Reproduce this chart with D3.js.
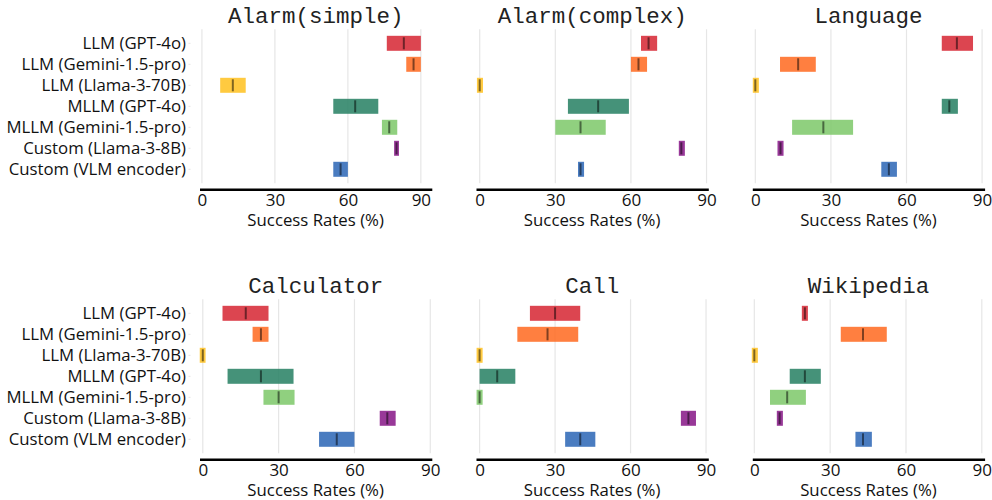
<!DOCTYPE html>
<html>
<head>
<meta charset="utf-8">
<script src="https://cdn.jsdelivr.net/npm/d3@7/dist/d3.min.js"></script>
<style>
  html, body { margin: 0; padding: 0; background: #fff; }
  svg { display: block; }
</style>
</head>
<body>
<svg id="chart" width="992" height="500"></svg>
<script>
// ---------------- data ----------------
const categories = [
  "LLM (GPT-4o)",
  "LLM (Gemini-1.5-pro)",
  "LLM (Llama-3-70B)",
  "MLLM (GPT-4o)",
  "MLLM (Gemini-1.5-pro)",
  "Custom (Llama-3-8B)",
  "Custom (VLM encoder)"
];
const tasks = ["Alarm(simple)", "Alarm(complex)", "Language", "Calculator", "Call", "Wikipedia"];

// lower end of each range, per task (rows follow categories)
const lowValues = [
  [76, 84, 7.5, 54, 74, 79, 54],
  [64, 60, -1.1, 35, 30, 79, 39],
  [74, 9.8, -1, 74, 14.6, 8.8, 50],
  [7.8, 19.7, -1.2, 9.8, 24, 70, 46],
  [20, 15, -1.2, 0, -1.2, 80, 34],
  [18.8, 34.2, -1, 14, 6.2, 8.9, 40]
];
// upper end of each range
const highValues = [
  [90, 90, 18, 72.5, 80.3, 81, 60],
  [70.4, 66.4, 1.3, 59.2, 50, 81.4, 41.4],
  [86.4, 24, 1.4, 80.4, 38.8, 11.2, 56.2],
  [26, 26, 1.1, 35.9, 36.3, 76.3, 60],
  [40, 39.2, 1.2, 14.2, 1.2, 86, 46],
  [21.2, 52.4, 1.4, 26.3, 20.4, 11.3, 46.5]
];
// median marks
const medianValues = [
  [83, 87, 12.7, 63, 77, 80, 57],
  [67, 63, 0, 47, 40, 80, 40],
  [80, 17, 0, 77, 27, 10, 53],
  [17, 23, 0, 23, 30, 73, 53],
  [30, 27, 0, 7, 0, 83, 40],
  [20, 43, 0, 20, 13, 10, 43]
];
const xTicks = [0, 30, 60, 90];
const xLimits = [[-1, 94.5], [-1.47, 90.7], [-1.2, 91], [-1.3, 90.6], [-1.43, 90.9], [-0.8, 91.1]];
const colors = ["#d62531", "#ff691e", "#ffc11e", "#257f62", "#7cc869", "#861586", "#2a65b5"];

// ---------------- layout ----------------
const svg = d3.select("#chart");
const panelLeft = [199.5, 476, 752.3];
const panelWidth = 232.3;
const rowTop = [29.3, 299.3];
const plotHeight = 154;
const font = "'Open Sans', 'Noto Sans', sans-serif";

tasks.forEach((task, t) => {
  const col = t % 3, row = Math.floor(t / 3);
  const x0 = panelLeft[col], y0 = rowTop[row];
  const x = d3.scaleLinear().domain(xLimits[t]).range([x0, x0 + panelWidth]);
  const y = d3.scaleBand().domain(categories).range([y0, y0 + plotHeight])
    .paddingInner(0.286).paddingOuter(0.31);
  const g = svg.append("g");

  // grid lines
  g.selectAll("line.grid").data(xTicks).join("line")
    .attr("x1", d => x(d)).attr("x2", d => x(d))
    .attr("y1", y0).attr("y2", y0 + plotHeight)
    .attr("stroke", "#e6e6e6").attr("stroke-width", 1.2);

  // y ticks (faint) and labels
  if (col === 0) {
    g.selectAll("line.ytick").data(categories).join("line")
      .attr("x1", x0 - 11).attr("x2", x0 - 9)
      .attr("y1", d => y(d) + y.bandwidth() / 2).attr("y2", d => y(d) + y.bandwidth() / 2)
      .attr("stroke", "#e4e4e4").attr("stroke-width", 1);
    g.selectAll("text.ylab").data(categories).join("text")
      .attr("x", x0 - 13.5)
      .attr("y", d => y(d) + y.bandwidth() / 2)
      .attr("dy", "0.35em")
      .attr("text-anchor", "end")
      .attr("font-family", font).attr("font-size", 16.8).attr("fill", "#111")
      .text(d => d);
  }

  // bars
  g.selectAll("rect.bar").data(categories).join("rect")
    .attr("x", (d, i) => x(lowValues[t][i]))
    .attr("width", (d, i) => x(highValues[t][i]) - x(lowValues[t][i]))
    .attr("y", d => y(d))
    .attr("height", y.bandwidth())
    .attr("fill", (d, i) => colors[i])
    .attr("fill-opacity", 0.85);

  // median marks
  g.selectAll("line.med").data(categories).join("line")
    .attr("x1", (d, i) => x(medianValues[t][i])).attr("x2", (d, i) => x(medianValues[t][i]))
    .attr("y1", d => y(d) + 1.5).attr("y2", d => y(d) + y.bandwidth() - 1.5)
    .attr("stroke", "#000").attr("stroke-opacity", 0.5).attr("stroke-width", 2);

  // bottom axis
  const axisY = y0 + plotHeight + 6;
  const axis = d3.axisBottom(x).tickValues(xTicks).tickSize(0).tickPadding(4.5).tickFormat(d3.format("d"));
  const ag = g.append("g").attr("transform", `translate(0,${axisY})`).call(axis);
  ag.select(".domain").attr("stroke", "#000").attr("stroke-width", 2.5);
  ag.selectAll("text").attr("font-family", font).attr("font-size", 17).attr("fill", "#111");

  // x label
  g.append("text")
    .attr("x", x0 + panelWidth / 2).attr("y", axisY + 36.5)
    .attr("text-anchor", "middle")
    .attr("font-family", font).attr("font-size", 16.8).attr("fill", "#111")
    .text("Success Rates (%)");

  // title
  g.append("text")
    .attr("x", x0 + panelWidth / 2).attr("y", y0 - 6)
    .attr("text-anchor", "middle")
    .attr("font-family", "'Liberation Mono', 'Courier New', monospace")
    .attr("font-size", 22.5).attr("fill", "#222")
    .text(task);
});
</script>
</body>
</html>
